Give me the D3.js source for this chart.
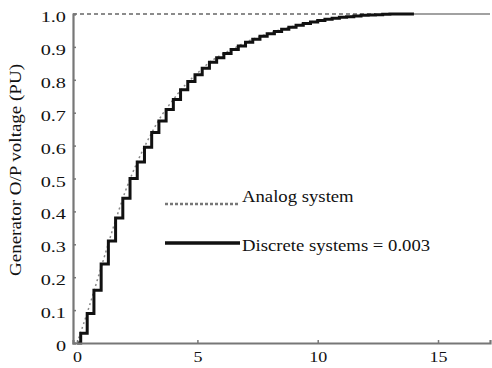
<!DOCTYPE html>
<html>
<head>
<meta charset="utf-8">
<script src="https://cdn.jsdelivr.net/npm/d3@7"></script>
<style>
  body { margin: 0; background: #fff; }
  text { font-family: "Liberation Serif", "Times New Roman", serif; }
</style>
</head>
<body>
<div id="chart"></div>
<script>
var width = 492
var height = 368

// discrete system (stepped) values
var discreteT = [0, 0.15, 0.42, 0.7, 1.0, 1.3, 1.6, 1.9, 2.2, 2.5, 2.8, 3.1, 3.4, 3.7, 4.0, 4.3, 4.6, 4.9, 5.2, 5.5,
  5.8, 6.1, 6.4, 6.7, 7.0, 7.3, 7.6, 7.9, 8.2, 8.5, 8.8, 9.1, 9.4, 9.7, 10.0, 10.3, 10.6, 10.9, 11.2, 11.5,
  11.8, 12.1, 12.4, 12.7, 13.0, 14.0]
var discreteV = [0, 0.03, 0.09, 0.16, 0.24, 0.31, 0.38, 0.44, 0.5, 0.55, 0.595, 0.64, 0.675, 0.71, 0.74, 0.77, 0.795, 0.815, 0.835, 0.853,
  0.867, 0.88, 0.892, 0.903, 0.914, 0.923, 0.932, 0.94, 0.947, 0.954, 0.96, 0.966, 0.971, 0.976, 0.98, 0.984, 0.987, 0.99, 0.992, 0.994,
  0.996, 0.997, 0.998, 0.999, 1.0, 1.0]

// analog system values
var analogT = [0, 0.5, 1, 1.5, 2, 2.5, 3, 3.5, 4, 4.5, 5, 5.5, 6, 6.5, 7, 7.5, 8, 9, 10, 11, 12, 13]
var analogV = [0, 0.11, 0.23, 0.35, 0.46, 0.55, 0.625, 0.69, 0.74, 0.785, 0.82, 0.853, 0.876, 0.895, 0.914, 0.929, 0.942, 0.963, 0.98, 0.99, 0.997, 1.0]

var refLevel = 1.0
var tailT = [14.0, 17.16]

var xTicks = [0, 5, 10, 15]
var yTicks = [0, 0.1, 0.2, 0.3, 0.4, 0.5, 0.6, 0.7, 0.8, 0.9, 1.0]

var legendLabels = ["Analog system", "Discrete systems = 0.003"]

var svg = d3.select("#chart")
  .append("svg")
  .attr("width", width)
  .attr("height", height)

var xScale = d3.scaleLinear()
  .domain([-0.17, 17.16])
  .range([73, 490])

var yScale = d3.scaleLinear()
  .domain([0, 1])
  .range([343, 14])

// the scanned figure has wide lettering, stretch text horizontally
function stretch(sel, k) {
  sel.each(function() {
    var w = this.getComputedTextLength()
    d3.select(this)
      .attr("textLength", w * k)
      .attr("lengthAdjust", "spacingAndGlyphs")
  })
}

// reference dashed line at 1.0
svg.append("line")
  .attr("x1", xScale(-0.17))
  .attr("x2", xScale(12.4))
  .attr("y1", yScale(refLevel))
  .attr("y2", yScale(refLevel))
  .style("stroke", "#666")
  .style("stroke-width", 1.6)
  .style("stroke-dasharray", "4,3")

// thin tail at final value
svg.append("line")
  .attr("x1", xScale(tailT[0]))
  .attr("x2", xScale(tailT[1]))
  .attr("y1", yScale(refLevel))
  .attr("y2", yScale(refLevel))
  .style("stroke", "#444")
  .style("stroke-width", 1.2)

var analog = d3.zip(analogT, analogV)
var discrete = d3.zip(discreteT, discreteV)

svg.append("path")
  .datum(analog)
  .attr("d", d3.line()
    .x(d => xScale(d[0]))
    .y(d => yScale(d[1]))
    .curve(d3.curveMonotoneX))
  .style("fill", "none")
  .style("stroke", "#888")
  .style("stroke-width", 1.5)
  .style("stroke-dasharray", "2,3")

svg.append("path")
  .datum(discrete)
  .attr("d", d3.line()
    .x(d => xScale(d[0]))
    .y(d => yScale(d[1]))
    .curve(d3.curveStepAfter))
  .style("fill", "none")
  .style("stroke", "#111")
  .style("stroke-width", 3)
  .style("stroke-linejoin", "miter")

// Y axis
var yAxis = d3.axisLeft(yScale)
  .tickValues(yTicks)
  .tickSize(-3)
  .tickPadding(7)
  .tickFormat(d => d === 0 ? "0" : d.toFixed(1))

var gy = svg.append("g")
  .attr("transform", `translate(${xScale(-0.17)},0)`)
  .call(yAxis)
gy.select(".domain").style("stroke", "#777").style("stroke-width", 2.2)
gy.selectAll(".tick line").style("stroke", "#777").style("stroke-width", 1.5)
gy.selectAll(".tick text")
  .style("font-size", "15px")
  .style("fill", "#111")
  .attr("dy", "0.5em")
  .call(stretch, 1.35)

// X axis
var xAxis = d3.axisBottom(xScale)
  .tickValues(xTicks)
  .tickSize(-3)
  .tickPadding(8)

var gx = svg.append("g")
  .attr("transform", `translate(0,${yScale(0)})`)
  .call(xAxis)
gx.select(".domain").style("stroke", "#777").style("stroke-width", 2.2)
gx.selectAll(".tick line").style("stroke", "#777").style("stroke-width", 1.5)
gx.selectAll(".tick text")
  .style("font-size", "15px")
  .style("fill", "#111")
  .call(stretch, 1.2)

svg.append("text")
  .attr("text-anchor", "middle")
  .attr("transform", `translate(21,170) rotate(-90)`)
  .style("font-size", "16px")
  .style("fill", "#111")
  .attr("textLength", 212)
  .attr("lengthAdjust", "spacingAndGlyphs")
  .text("Generator O/P voltage (PU)")

// legend
svg.append("line")
  .attr("x1", 165).attr("x2", 240)
  .attr("y1", 204).attr("y2", 204)
  .style("stroke", "#777")
  .style("stroke-width", 2.5)
  .style("stroke-dasharray", "3,2")

svg.append("text")
  .attr("x", 242).attr("y", 202)
  .style("font-size", "17px")
  .style("fill", "#111")
  .text(legendLabels[0])
  .call(stretch, 1.1)

svg.append("line")
  .attr("x1", 165).attr("x2", 240)
  .attr("y1", 243).attr("y2", 243)
  .style("stroke", "#111")
  .style("stroke-width", 3.5)

svg.append("text")
  .attr("x", 242).attr("y", 251)
  .style("font-size", "17px")
  .style("fill", "#111")
  .text(legendLabels[1])
  .call(stretch, 1.1)
</script>
</body>
</html>
